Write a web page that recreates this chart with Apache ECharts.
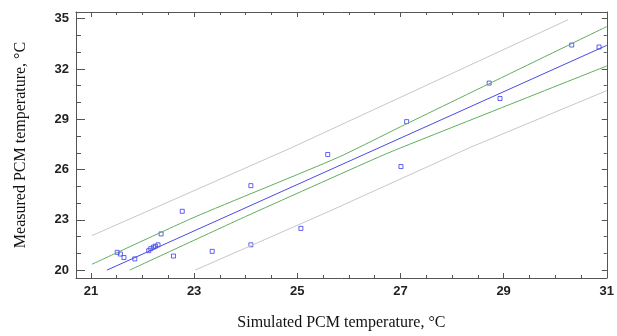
<!DOCTYPE html>
<html><head><meta charset="utf-8">
<script src="https://cdn.jsdelivr.net/npm/echarts@6/dist/echarts.min.js"></script>
<style>html,body{margin:0;padding:0;background:#fff}#c{width:617px;height:336px}</style>
</head><body><div id="c"></div>
<script>
// Measured vs simulated PCM temperature (°C)
var simulated = [21.51,21.57,21.64,21.85,22.12,22.16,22.21,22.25,22.30,22.36,22.60,22.77,23.35,24.10,24.10,25.07,25.59,27.01,27.12,28.72,28.93,30.32,30.85];
var measured  = [21.06,20.96,20.75,20.67,21.16,21.28,21.37,21.43,21.51,22.16,20.84,23.51,21.12,21.51,25.04,22.49,26.90,26.18,28.86,31.16,30.24,33.43,33.31];
// fitted line
var fitX = [21.31, 31.0];
var fitY = [20.0, 33.41];
// confidence limits
var confUpX = [21.02, 23.0, 25.78, 27.0, 31.0];
var confUpY = [20.35, 23.15, 26.71, 28.55, 34.53];
var confLoX = [21.75, 24.0, 26.55, 27.0, 31.0];
var confLoY = [20.0, 23.20, 26.71, 27.29, 32.18];
// prediction limits
var predUpX = [21.02, 24.88, 30.25];
var predUpY = [22.06, 27.29, 34.94];
var predLoX = [23.02, 25.59, 28.33, 31.0];
var predLoY = [20.0, 23.47, 27.29, 30.71];
// ticks
var xMajor = [21, 23, 25, 27, 29, 31];
var xMinor = [21,21.5,22,22.5,23,23.5,24,24.5,25,25.5,26,26.5,27,27.5,28,28.5,29,29.5,30,30.5,31];
var yMajor = [20, 23, 26, 29, 32, 35];
var yMinor = [20,21,22,23,24,25,26,27,28,29,30,31,32,33,34,35];

function pairs(xs, ys){ return xs.map(function(v,i){return [v, ys[i]];}); }

var XMIN = 20.71, XMAX = 31.0, YMIN = 19.53, YMAX = 35.4;
var axisLineStyle = {color:'#555', width:1};
var labelFont = {fontFamily:'Liberation Sans, Arial', fontWeight:'bold', fontSize:13, color:'#222'};

function xAx(pos, ticks, len, showLabel, showLine, name){
  return {
    type:'value', position:pos, min:XMIN, max:XMAX, gridIndex:0,
    axisLine:{show:showLine, onZero:false, lineStyle:axisLineStyle},
    axisTick:{show:true, inside:true, length:len, customValues:ticks, lineStyle:{color:'#555'}},
    axisLabel:Object.assign({show:showLabel, customValues:ticks, margin:7}, labelFont),
    splitLine:{show:false},
    name: name || '', nameLocation:'middle', nameGap:37,
    nameTextStyle:{fontFamily:'Liberation Serif, Times New Roman', fontSize:16, color:'#111'}
  };
}
function yAx(pos, ticks, len, showLabel, showLine, name){
  return {
    type:'value', position:pos, min:YMIN, max:YMAX, gridIndex:0,
    axisLine:{show:showLine, onZero:false, lineStyle:axisLineStyle},
    axisTick:{show:true, inside:true, length:len, customValues:ticks, lineStyle:{color:'#555'}},
    axisLabel:Object.assign({show:showLabel, customValues:ticks, margin:7}, labelFont),
    splitLine:{show:false},
    name: name || '', nameLocation:'middle', nameGap:47,
    nameTextStyle:{fontFamily:'Liberation Serif, Times New Roman', fontSize:16, color:'#111'}
  };
}

var chart = echarts.init(document.getElementById('c'), null, {renderer:'canvas'});
chart.setOption({
  animation:false,
  backgroundColor:'#fff',
  grid:{left:76, right:5, top:12, bottom:54, containLabel:false},
  xAxis:[
    xAx('bottom', xMajor, 5, true, true, 'Simulated PCM temperature, °C'),
    xAx('bottom', xMinor, 3, false, false),
    xAx('top', xMajor, 5, false, true),
    xAx('top', xMinor, 3, false, false)
  ],
  yAxis:[
    yAx('left', yMajor, 9, true, true, 'Measured PCM temperature, °C'),
    yAx('left', yMinor, 5, false, false),
    yAx('right', yMajor, 5, false, true),
    yAx('right', yMinor, 3, false, false)
  ],
  series:[
    {type:'line', data:pairs(predUpX, predUpY), showSymbol:false, lineStyle:{color:'#c8c8c8', width:1}, silent:true},
    {type:'line', data:pairs(predLoX, predLoY), showSymbol:false, lineStyle:{color:'#c8c8c8', width:1}, silent:true},
    {type:'line', data:pairs(confUpX, confUpY), showSymbol:false, smooth:0.2, lineStyle:{color:'#5fae5f', width:1}, silent:true},
    {type:'line', data:pairs(confLoX, confLoY), showSymbol:false, smooth:0.2, lineStyle:{color:'#5fae5f', width:1}, silent:true},
    {type:'line', data:pairs(fitX, fitY), showSymbol:false, lineStyle:{color:'#4a4ae6', width:1}, silent:true},
    {type:'scatter', data:pairs(simulated, measured), symbol:'rect', symbolSize:4,
      itemStyle:{color:'rgba(255,255,255,0)', borderColor:'#3c3cf0', borderWidth:1}}
  ]
});
</script></body></html>
